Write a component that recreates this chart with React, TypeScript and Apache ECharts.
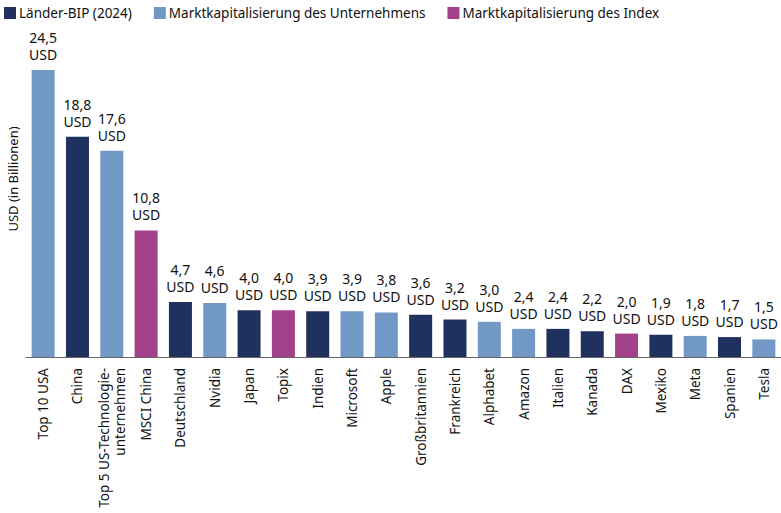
import * as echarts from "echarts";
import { useEffect, useRef } from "react";

const categories = [
  "Top 10 USA",
  "China",
  "Top 5 US-Technologie-\nunternehmen",
  "MSCI China",
  "Deutschland",
  "Nvidia",
  "Japan",
  "Topix",
  "Indien",
  "Microsoft",
  "Apple",
  "Großbritannien",
  "Frankreich",
  "Alphabet",
  "Amazon",
  "Italien",
  "Kanada",
  "DAX",
  "Mexiko",
  "Meta",
  "Spanien",
  "Tesla",
];

const values = [
  24.5, 18.8, 17.6, 10.8, 4.7, 4.6, 4.0, 4.0, 3.9, 3.9, 3.8, 3.6, 3.2, 3.0, 2.4,
  2.4, 2.2, 2.0, 1.9, 1.8, 1.7, 1.5,
];

// g = Länder-BIP, c = Unternehmen, i = Index
const groups = [
  "c", "g", "c", "i", "g", "c", "g", "i", "g", "c", "c",
  "g", "g", "c", "c", "g", "g", "i", "g", "c", "g", "c",
];

const seriesNames = [
  "Länder-BIP (2024)",
  "Marktkapitalisierung des Unternehmens",
  "Marktkapitalisierung des Index",
];
const seriesKeys = ["g", "c", "i"];
const seriesColors = ["#20305f", "#7299c6", "#a4418b"];

const FONT = "'Noto Sans', 'Open Sans', sans-serif";

const App = () => {
  const chartRef = useRef<HTMLDivElement | null>(null);

  useEffect(() => {
    const chart = echarts.init(chartRef.current!, null, { renderer: "svg" });

    const option = {
      animation: false,
      textStyle: { fontFamily: FONT },
      legend: {
        left: 4,
        top: 6,
        padding: 0,
        itemWidth: 12,
        itemHeight: 12,
        itemGap: 22,
        icon: "rect",
        textStyle: { fontSize: 13.5, color: "#111", fontFamily: FONT, padding: [0, 0, 0, -2] },
        data: seriesNames,
      },
      grid: { left: 26, right: 0, top: 70, bottom: 156 },
      graphic: [
        {
          type: "text",
          x: 13,
          y: 179,
          rotation: Math.PI / 2,
          style: {
            text: "USD (in Billionen)",
            fontSize: 13,
            fontFamily: FONT,
            fill: "#111",
            align: "center",
            verticalAlign: "middle",
          },
        },
      ],
      xAxis: {
        type: "category",
        data: categories,
        axisTick: { show: false },
        axisLine: { lineStyle: { color: "#666", width: 1 } },
        axisLabel: {
          rotate: 90,
          interval: 0,
          margin: 11,
          fontSize: 13.5,
          lineHeight: 16,
          color: "#111",
          fontFamily: FONT,
        },
      },
      yAxis: {
        type: "value",
        min: 0,
        max: 24.5,
        show: false,
        splitLine: { show: false },
      },
      series: seriesKeys.map((key, s) => ({
        name: seriesNames[s],
        type: "bar",
        stack: "all",
        barWidth: 23,
        itemStyle: { color: seriesColors[s] },
        label: {
          show: true,
          position: "top",
          distance: 7,
          fontSize: 14,
          lineHeight: 17,
          color: "#111",
          fontFamily: FONT,
          formatter: (p: any) => p.value.toFixed(1).replace(".", ",") + "\nUSD",
        },
        data: values.map((v, i) => (groups[i] === key ? v : "-")),
      })),
    };

    chart.setOption(option);
    return () => {
      chart.dispose();
    };
  }, []);

  return (
    <div
      ref={chartRef}
      style={{ position: "absolute", left: 0, top: 0, width: "781px", height: "513px" }}
    />
  );
};

export default App;
